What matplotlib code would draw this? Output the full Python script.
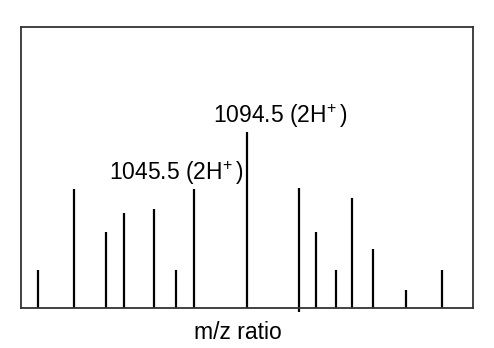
import matplotlib
matplotlib.use("Agg")
import matplotlib.pyplot as plt

plt.rcParams['font.family'] = ['Liberation Sans', 'DejaVu Sans']
plt.rcParams['mathtext.fontset'] = 'custom'
plt.rcParams['mathtext.rm'] = 'Liberation Sans'
plt.rcParams['mathtext.it'] = 'Liberation Sans'

mz = [901.8, 935.1, 964.4, 980.8, 1009.1, 1028.9, 1045.5, 1094.5,
      1142.9, 1158.6, 1177.3, 1192.1, 1211.0, 1241.5, 1275.1]
intensity = [21.4, 67.5, 43.1, 54.1, 56.0, 21.4, 67.5, 100.0,
             68.2, 43.1, 21.4, 62.2, 33.3, 10.0, 21.4]
labels = {1045.5: "1045.5 (2H$^{+}\\,$)", 1094.5: "1094.5 (2H$^{+}\\,$)"}

fig = plt.figure(figsize=(4.94, 3.48), dpi=100)
ax = fig.add_axes([0.0425, 0.1149, 0.915, 0.8075])
ax.vlines(mz, 0, intensity, colors='black', linewidth=1.6)
ax.set_xlim(885.8, 1303.7)
ax.set_ylim(0, 159.4)
ax.set_yticks([])
ax.set_xticks([1142.9])
ax.set_xticklabels([])
ax.tick_params(axis='x', direction='out', length=3, width=1.6, color='black')
for s in ax.spines.values():
    s.set_linewidth(1.3)
    s.set_color('#333333')

ax.text(1063.0, 104.8, labels[1094.5], fontsize=16.5, ha='left', va='baseline')
ax.text(967.5, 72.6, labels[1045.5], fontsize=16.5, ha='left', va='baseline')

ax.set_xlabel("m/z ratio", fontsize=16.5)
ax.xaxis.set_label_coords(0.479, -0.045, transform=ax.transAxes)
ax.xaxis.label.set_va('top')

fig.savefig("out.png", dpi=100)
